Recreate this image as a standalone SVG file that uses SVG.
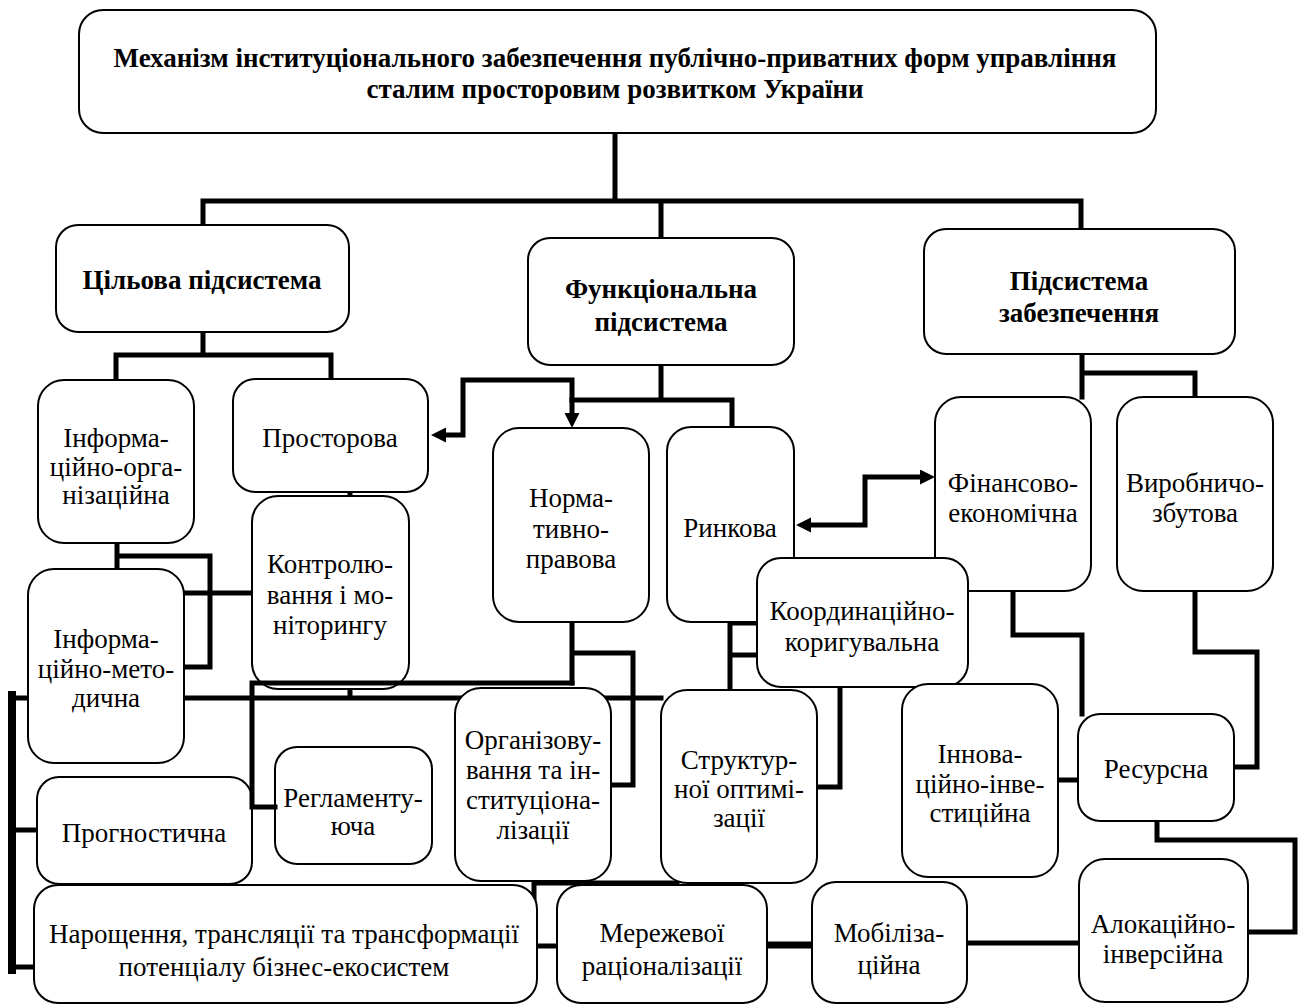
<svg xmlns="http://www.w3.org/2000/svg" width="1298" height="1006" viewBox="0 0 1298 1006">
<style>
.box{fill:#fff;stroke:#000;stroke-width:2}
.t{font-family:"Liberation Serif","Times New Roman",serif;font-size:27px;fill:#000;text-anchor:middle}
.b{font-weight:bold;font-size:27px}
.c{fill:none;stroke:#000;stroke-width:5;stroke-linejoin:miter;stroke-linecap:square}
.ca{fill:none;stroke:#000;stroke-width:5;stroke-linejoin:miter;stroke-linecap:butt}
</style>
<defs>
<marker id="ah" markerUnits="userSpaceOnUse" markerWidth="16" markerHeight="16" refX="0" refY="7.5" orient="auto-start-reverse" viewBox="0 0 16 16">
<path d="M0,0 L15,7.5 L0,15 z" fill="#000"/>
</marker>
</defs>
<rect width="1298" height="1006" fill="#fff"/>
<g id="connectors">
<path class="c" d="M615,133 V201 M203,201 H1081 M203,201 V225 M661,201 V238 M1081,201 V229"/>
<path class="c" d="M203,332 V355 M116,355 H331 M116,355 V380 M331,355 V379"/>
<path class="c" d="M661,365 V400 M572,400 H732 V427"/>
<path class="ca" d="M446,435 H463 V380 H572 V413" marker-start="url(#ah)" marker-end="url(#ah)"/>
<path class="ca" d="M811,525 H865 V477 H920" marker-start="url(#ah)" marker-end="url(#ah)"/>
<path class="c" d="M1082,354 V397 M1082,373 H1195 V397"/>
<path class="c" d="M1013,591 V635 H1082 V714"/>
<path class="c" d="M1195,591 V652 H1257 V767 H1234"/>
<path class="c" d="M1058,780 H1078"/>
<path class="c" d="M1157,821 V840 H1295 V932 H1248"/>
<path class="c" d="M967,943 H1079"/>
<path class="c" style="stroke-width:7" d="M767,945 H812"/>
<path class="c" d="M677,883 H534 V946 H557"/>
<path class="c" d="M572,622 V683 M572,653 H633 V785 H611"/>
<path class="c" d="M14,698 H661 M350,689 V698"/>
<path class="c" style="stroke-width:8" d="M12,695 V970"/>
<path class="c" d="M12,830 H37 M12,967 H34"/>
<path class="c" d="M117,543 V569 M117,556 H210 V667 H184"/>
<path class="c" d="M184,593 H252"/>
<path class="c" d="M350,492 V496"/>
<path class="c" d="M730,622 V690 M730,623 H757 M730,655 H757"/>
<path class="c" d="M840,687 V787 H817"/>
</g>
<g id="n-title"><rect class="box" x="79" y="10" width="1077" height="123" rx="24"/>
<text class="t b" x="615" y="67">Механізм інституціонального забезпечення публічно-приватних форм управління</text>
<text class="t b" x="615" y="98">сталим просторовим розвитком України</text></g>
<g id="n-cil"><rect class="box" x="56" y="225" width="293" height="107" rx="22"/>
<text class="t b" x="202" y="289">Цільова підсистема</text></g>
<g id="n-func"><rect class="box" x="528" y="238" width="266" height="127" rx="22"/>
<text class="t b" x="661" y="298">Функціональна</text>
<text class="t b" x="661" y="331">підсистема</text></g>
<g id="n-zab"><rect class="box" x="924" y="229" width="311" height="125" rx="22"/>
<text class="t b" x="1079" y="290">Підсистема</text>
<text class="t b" x="1079" y="322">забезпечення</text></g>
<g id="n-infoorg"><rect class="box" x="38" y="380" width="156" height="163" rx="26"/>
<text class="t" x="116" y="447">Інформа-</text>
<text class="t" x="116" y="476">ційно-орга-</text>
<text class="t" x="116" y="504">нізаційна</text></g>
<g id="n-prost"><rect class="box" x="233" y="379" width="195" height="113" rx="22"/>
<text class="t" x="330" y="447">Просторова</text></g>
<g id="n-norm"><rect class="box" x="493" y="428" width="156" height="194" rx="26"/>
<text class="t" x="571" y="507">Норма-</text>
<text class="t" x="571" y="538">тивно-</text>
<text class="t" x="571" y="568">правова</text></g>
<g id="n-rynk"><rect class="box" x="667" y="427" width="127" height="195" rx="24"/>
<text class="t" x="730" y="537">Ринкова</text></g>
<g id="n-fin"><rect class="box" x="935" y="397" width="156" height="194" rx="26"/>
<text class="t" x="1013" y="492">Фінансово-</text>
<text class="t" x="1013" y="522">економічна</text></g>
<g id="n-vyrob"><rect class="box" x="1117" y="397" width="156" height="194" rx="26"/>
<text class="t" x="1195" y="492">Виробничо-</text>
<text class="t" x="1195" y="522">збутова</text></g>
<g id="n-kontrol"><rect class="box" x="252" y="496" width="157" height="193" rx="26"/>
<text class="t" x="330" y="573">Контролю-</text>
<text class="t" x="330" y="604">вання і мо-</text>
<text class="t" x="330" y="634">ніторингу</text></g>
<g id="n-infometod"><rect class="box" x="28" y="569" width="156" height="194" rx="26"/>
<text class="t" x="106" y="648">Інформа-</text>
<text class="t" x="106" y="678">ційно-мето-</text>
<text class="t" x="106" y="707">дична</text></g>
<g id="n-koord"><rect class="box" x="757" y="558" width="211" height="129" rx="24"/>
<text class="t" x="862" y="620">Координаційно-</text>
<text class="t" x="862" y="651">коригувальна</text></g>
<g id="n-org"><rect class="box" x="455" y="688" width="156" height="193" rx="26"/>
<text class="t" x="533" y="749">Організову-</text>
<text class="t" x="533" y="779">вання та ін-</text>
<text class="t" x="533" y="809">ституціона-</text>
<text class="t" x="533" y="839">лізації</text></g>
<g id="n-strukt"><rect class="box" x="661" y="690" width="156" height="193" rx="26"/>
<text class="t" x="739" y="769">Структур-</text>
<text class="t" x="739" y="798">ної оптимі-</text>
<text class="t" x="739" y="827">зації</text></g>
<g id="n-innov"><rect class="box" x="902" y="684" width="156" height="193" rx="26"/>
<text class="t" x="980" y="763">Іннова-</text>
<text class="t" x="980" y="793">ційно-інве-</text>
<text class="t" x="980" y="822">стиційна</text></g>
<g id="n-resurs"><rect class="box" x="1078" y="714" width="156" height="107" rx="22"/>
<text class="t" x="1156" y="778">Ресурсна</text></g>
<g id="n-regl"><rect class="box" x="275" y="747" width="157" height="117" rx="22"/>
<text class="t" x="353" y="807">Регламенту-</text>
<text class="t" x="353" y="835">юча</text></g>
<g id="n-prog"><rect class="box" x="37" y="777" width="215" height="107" rx="22"/>
<text class="t" x="144" y="842">Прогностична</text></g>
<g id="n-nar"><rect class="box" x="34" y="885" width="503" height="118" rx="24"/>
<text class="t" x="284" y="943">Нарощення, трансляції та трансформації</text>
<text class="t" x="284" y="976">потенціалу бізнес-екосистем</text></g>
<g id="n-mer"><rect class="box" x="557" y="885" width="210" height="118" rx="24"/>
<text class="t" x="662" y="942">Мережевої</text>
<text class="t" x="662" y="975">раціоналізації</text></g>
<g id="n-mob"><rect class="box" x="812" y="882" width="155" height="121" rx="24"/>
<text class="t" x="889" y="942">Мобіліза-</text>
<text class="t" x="889" y="974">ційна</text></g>
<g id="n-aloc"><rect class="box" x="1079" y="859" width="169" height="143" rx="26"/>
<text class="t" x="1163" y="933">Алокаційно-</text>
<text class="t" x="1163" y="963">інверсійна</text></g>
<g id="connectors-over">
<path class="c" d="M572,683 H252 V807 H275"/>
</g>
</svg>
